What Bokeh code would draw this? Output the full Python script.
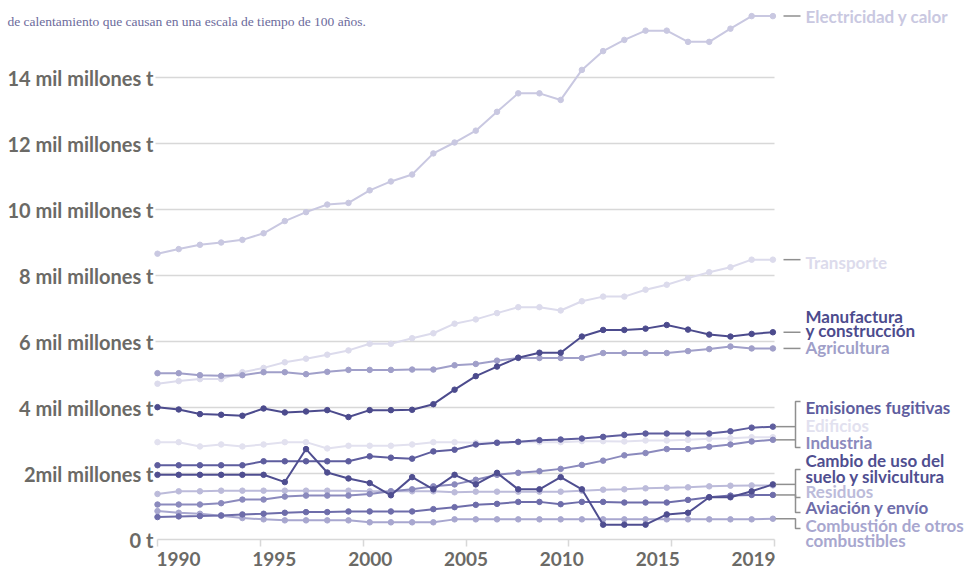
from bokeh.plotting import figure
from bokeh.models import Range1d, LinearAxis, FixedTicker, ColumnDataSource
from bokeh.core.properties import value
from bokeh.embed import file_html
from bokeh.resources import INLINE

# ---------------- data ----------------
years = list(range(1990, 2020))

electricidad = [8.66, 8.80, 8.93, 9.00, 9.08, 9.28, 9.65, 9.92, 10.15, 10.20, 10.58, 10.85, 11.06, 11.70, 12.03,
                12.39, 12.96, 13.52, 13.52, 13.32, 14.23, 14.80, 15.14, 15.42, 15.42, 15.08, 15.08, 15.48, 15.86, 15.86]
transporte = [4.72, 4.80, 4.86, 4.86, 5.07, 5.20, 5.37, 5.48, 5.60, 5.73, 5.93, 5.93, 6.10, 6.25, 6.54,
              6.67, 6.86, 7.04, 7.04, 6.94, 7.22, 7.36, 7.36, 7.57, 7.72, 7.92, 8.10, 8.25, 8.48, 8.48]
manufactura = [4.01, 3.94, 3.80, 3.78, 3.75, 3.97, 3.85, 3.88, 3.92, 3.71, 3.92, 3.92, 3.93, 4.10, 4.54,
               4.95, 5.24, 5.51, 5.66, 5.66, 6.15, 6.35, 6.35, 6.39, 6.50, 6.36, 6.21, 6.15, 6.23, 6.28]
agricultura = [5.04, 5.04, 4.98, 4.96, 4.98, 5.07, 5.07, 5.01, 5.08, 5.14, 5.14, 5.14, 5.15, 5.15, 5.28,
               5.32, 5.42, 5.50, 5.50, 5.50, 5.50, 5.65, 5.65, 5.65, 5.65, 5.71, 5.77, 5.85, 5.79, 5.79]
emisiones = [2.25, 2.25, 2.25, 2.25, 2.25, 2.37, 2.37, 2.37, 2.37, 2.37, 2.52, 2.48, 2.45, 2.67, 2.72,
             2.88, 2.93, 2.96, 3.01, 3.03, 3.06, 3.11, 3.17, 3.21, 3.21, 3.21, 3.21, 3.28, 3.39, 3.42]
edificios = [2.95, 2.95, 2.82, 2.88, 2.82, 2.88, 2.95, 2.95, 2.76, 2.84, 2.84, 2.84, 2.88, 2.95, 2.95,
             2.93, 2.95, 2.95, 2.95, 2.95, 2.98, 2.98, 2.97, 3.00, 3.00, 3.02, 3.05, 3.07, 3.10, 3.10]
industria = [1.06, 1.06, 1.06, 1.10, 1.21, 1.21, 1.30, 1.33, 1.33, 1.33, 1.38, 1.46, 1.52, 1.61, 1.67,
             1.81, 1.96, 2.02, 2.07, 2.14, 2.26, 2.39, 2.55, 2.62, 2.74, 2.74, 2.81, 2.88, 2.97, 3.02]
cambio_uso = [1.96, 1.96, 1.96, 1.96, 1.96, 1.96, 1.74, 2.74, 2.03, 1.85, 1.71, 1.34, 1.89, 1.52, 1.96,
              1.67, 2.02, 1.52, 1.52, 1.89, 1.52, 0.45, 0.45, 0.45, 0.76, 0.81, 1.28, 1.28, 1.46, 1.67]
residuos = [1.38, 1.46, 1.46, 1.48, 1.48, 1.48, 1.48, 1.48, 1.48, 1.48, 1.46, 1.46, 1.46, 1.46, 1.43,
            1.45, 1.45, 1.45, 1.45, 1.45, 1.48, 1.51, 1.52, 1.55, 1.57, 1.58, 1.61, 1.63, 1.64, 1.64]
aviacion = [0.68, 0.70, 0.71, 0.73, 0.76, 0.78, 0.81, 0.83, 0.83, 0.85, 0.85, 0.85, 0.85, 0.92, 0.98,
            1.05, 1.08, 1.14, 1.14, 1.07, 1.14, 1.14, 1.12, 1.12, 1.12, 1.20, 1.28, 1.33, 1.35, 1.35]
combustion = [0.86, 0.81, 0.78, 0.72, 0.65, 0.61, 0.58, 0.58, 0.58, 0.58, 0.52, 0.52, 0.52, 0.52, 0.61,
              0.61, 0.61, 0.61, 0.61, 0.61, 0.61, 0.61, 0.61, 0.61, 0.61, 0.61, 0.61, 0.61, 0.61, 0.63]

y_ticks = [0, 2, 4, 6, 8, 10, 12, 14]
y_tick_labels = ["0 t", "2mil millones t", "4 mil millones t", "6 mil millones t", "8 mil millones t",
                 "10 mil millones t", "12 mil millones t", "14 mil millones t"]
x_tick_labels = ["1990", "1995", "2000", "2005", "2010", "2015", "2019"]

subtitle = "de calentamiento que causan en una escala de tiempo de 100 años."

# ---------------- styles / layout ----------------
COL = {
    "elec": "#c9c8e1", "trans": "#dcdbec", "manu": "#4c4b8d", "agri": "#a09fc9",
    "emis": "#5e5d9e", "edif": "#e2e1ef", "indu": "#8b8abd", "camb": "#4f4e90",
    "resi": "#bcbbda", "avia": "#6e6daa", "comb": "#a8a7cf",
}
series = [  # drawing order (light first)
    ("edif", edificios), ("trans", transporte), ("elec", electricidad), ("resi", residuos),
    ("comb", combustion), ("agri", agricultura), ("indu", industria), ("avia", aviacion),
    ("emis", emisiones), ("manu", manufactura), ("camb", cambio_uso),
]

W, H = 974, 573
PX = 21.22   # px per year
PY = 33.0    # px per unit (mil millones t)


def dx(page_x):
    return 1990 + (page_x - 157) / PX


def dy(page_y):
    return (539 - page_y) / PY


x_start, x_end = dx(0), dx(W)
y_start, y_end = dy(H), dy(0)
x_axis_end = dx(774)
x_ticks = [1990 + k * (x_axis_end - 1990) / 6 for k in range(7)]

p = figure(width=W, height=H, x_range=Range1d(x_start, x_end), y_range=Range1d(y_start, y_end),
           output_backend="svg", toolbar_location=None, x_axis_location=None, y_axis_location=None,
           min_border=0, outline_line_color=None, background_fill_color="white",
           border_fill_color="white")
p.xgrid.grid_line_color = None
p.ygrid.grid_line_color = None

AX_GRAY = "#d8d8d8"
TXT_GRAY = "#6b6a66"

# gridlines
p.segment(x0=[dx(155)] * (len(y_ticks) - 1), y0=y_ticks[1:], x1=[x_axis_end] * (len(y_ticks) - 1),
          y1=y_ticks[1:], line_color=AX_GRAY, line_width=1.5)

# y axis
yaxis = LinearAxis(fixed_location=1990, ticker=FixedTicker(ticks=y_ticks),
                   major_label_overrides={t: l for t, l in zip(y_ticks, y_tick_labels)},
                   axis_line_color=None, major_tick_line_color=None, minor_tick_line_color=None,
                   major_tick_out=0, major_tick_in=0, major_label_standoff=4,
                   major_label_text_font="Lato", major_label_text_font_style="bold",
                   major_label_text_font_size="20px", major_label_text_color=TXT_GRAY)
p.add_layout(yaxis, "left")

# x axis
xaxis = LinearAxis(fixed_location=0, bounds=(1990, x_axis_end), ticker=FixedTicker(ticks=x_ticks),
                   axis_line_color=AX_GRAY, axis_line_width=1.5,
                   major_tick_line_color=AX_GRAY, major_tick_line_width=1.5,
                   major_tick_in=0, major_tick_out=7, minor_tick_line_color=None,
                   major_label_text_alpha=0, major_label_text_font_size="1px")
p.add_layout(xaxis, "below")

# year labels (spread like the original axis)
lab_w = 42
xsrc = ColumnDataSource(dict(
    x=x_ticks, y=[dy(558)] * 7, text=x_tick_labels,
    off=[(0.5 - k / 6) * lab_w for k in range(7)]))
p.text(x="x", y="y", text="text", x_offset="off", source=xsrc, text_align="center",
       text_baseline="middle", text_font=value("Lato"), text_font_style="bold",
       text_font_size="19px", text_color=TXT_GRAY)

# series
for key, vals in series:
    p.line(years, vals, line_color=COL[key], line_width=2)
    p.scatter(years, vals, size=5.5, fill_color=COL[key], line_color=COL[key])

# right-hand labels
label_lines = [
    ("elec", "Electricidad y calor", electricidad[-1]),
    ("trans", "Transporte", dy(261.5)),
    ("manu", "Manufactura", dy(315.5)),
    ("manu", "y construcción", dy(329.5)),
    ("agri", "Agricultura", dy(347)),
    ("emis", "Emisiones fugitivas", dy(407)),
    ("edif", "Edificios", dy(424.5)),
    ("indu", "Industria", dy(441.5)),
    ("camb", "Cambio de uso del", dy(460)),
    ("camb", "suelo y silvicultura", dy(475.5)),
    ("resi", "Residuos", dy(491)),
    ("avia", "Aviación y envío", dy(507)),
    ("comb", "Combustión de otros", dy(524.5)),
    ("comb", "combustibles", dy(540)),
]
lsrc = ColumnDataSource(dict(
    x=[dx(805)] * len(label_lines), y=[l[2] for l in label_lines],
    text=[l[1] for l in label_lines], color=[COL[l[0]] for l in label_lines]))
p.text(x="x", y="y", text="text", text_color="color", source=lsrc, text_align="left",
       text_baseline="middle", text_font=value("Lato"), text_font_style="bold", text_font_size="17px")

# connectors
cx_a, cx_b, cx_c, cx_d = dx(775), dx(783), dx(795), dx(800)
xs, ys = [], []
for vals in (electricidad, transporte, manufactura, agricultura):
    xs.append([cx_b, cx_d]); ys.append([vals[-1], vals[-1]])
for vals in (emisiones, industria, cambio_uso, aviacion):
    xs.append([cx_a, cx_c]); ys.append([vals[-1], vals[-1]])
xs.append([cx_d, cx_c, cx_c, cx_d]); ys.append([dy(401), dy(401), dy(447), dy(447)])
xs.append([cx_d, cx_c, cx_c, cx_d]); ys.append([dy(469), dy(469), dy(497), dy(497)])
xs.append([cx_c, cx_c, cx_d]); ys.append([dy(494), dy(512), dy(512)])
xs.append([cx_a, cx_c, cx_c, cx_d]); ys.append([combustion[-1], combustion[-1], dy(528), dy(528)])
p.multi_line(xs=xs, ys=ys, line_color="#8f8f8f", line_width=1.5)

# subtitle
p.text(x=[dx(7)], y=[dy(21)], text=[subtitle], text_align="left", text_baseline="middle",
       text_font=value("Liberation Serif"), text_font_size="13.5px", text_color="#6c6b9c")

open("out.html", "w").write(file_html(p, INLINE))
